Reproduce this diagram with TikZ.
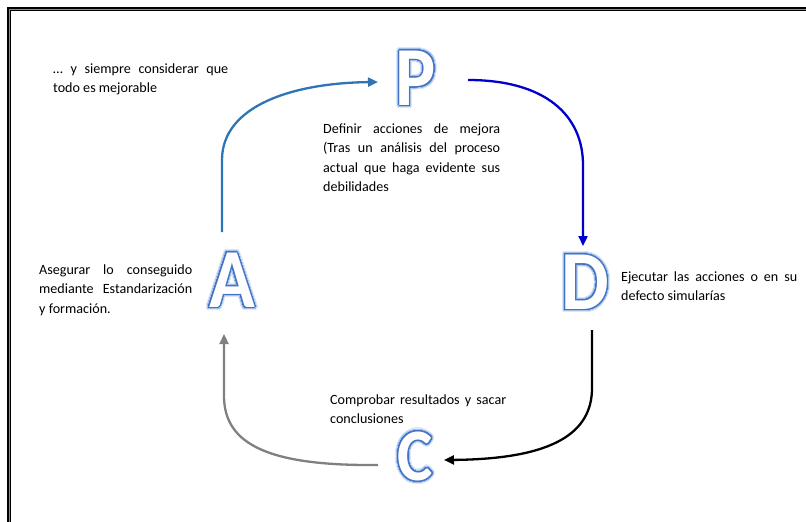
\documentclass[tikz,border=0pt]{standalone}
\usepackage{fontspec}
\setmainfont{Carlito}
\usepackage{graphicx}
\usepackage{contour}
\usetikzlibrary{arrows.meta,calc}

\definecolor{pdcaedge}{HTML}{4472C4}
\definecolor{pdcaglow}{HTML}{A3C0EA}
\definecolor{pdcahalo}{HTML}{DCE7F7}
\definecolor{arrowP}{HTML}{2E75B6}
\definecolor{arrowD}{HTML}{0000CC}
\definecolor{arrowC}{HTML}{000000}
\definecolor{arrowA}{HTML}{808080}

\contournumber{64}
% white letter with a thin blue edge and a soft blue halo
\newcommand\pdcaletter[1]{\scalebox{0.9}[1]{%
  \contourlength{3.4pt}\rlap{\color{pdcahalo}\contour{pdcahalo}{#1}}%
  \contourlength{2.2pt}\rlap{\color{pdcaglow}\contour{pdcaglow}{#1}}%
  \contourlength{1.1pt}{\color{white}\contour{pdcaedge}{#1}}}}

\tikzset{
  bigletter/.style={inner sep=0pt, font=\fontsize{84}{84}\selectfont\bfseries},
  smallletter/.style={inner sep=0pt, font=\fontsize{74}{74}\selectfont\bfseries},
  note/.style={inner sep=0pt, anchor=base west, text width=#1, align=justify,
    font=\fontsize{14.1}{19.6}\selectfont},
  flow/.style={line width=2.3pt, draw=#1, -{Triangle[length=10pt,width=9pt,fill=#1]}},
}

\begin{document}
\begin{tikzpicture}[x=1pt,y=-1pt]
\useasboundingbox (0,0) rectangle (806,522);

% double frame
\draw[line width=2pt] (7.5,7.5) rectangle (830,540);
\draw[line width=0.6pt, black!45] (9.2,9.2) rectangle (830,540);
\draw[line width=0.8pt] (10.4,10.4) rectangle (830,540);

% cycle letters
\node[bigletter] (P) at (416,80) {\pdcaletter{P}};
\node[bigletter] (D) at (585,284) {\pdcaletter{D}};
\node[smallletter] (C) at (415,458) {\pdcaletter{C}};
\node[bigletter] (A) at (232,282) {\pdcaletter{A}};

% connector end points
\coordinate (a1s) at ($(A)+(-10,-50)$);
\coordinate (a1e) at ($(P)+(-38,2)$);
\coordinate (a2s) at ($(P)+(52,0)$);
\coordinate (a2e) at ($(D)+(-2,-38)$);
\coordinate (a3s) at ($(D)+(7,46)$);
\coordinate (a3e) at ($(C)+(29,2)$);
\coordinate (a4s) at ($(C)+(-37,7)$);
\coordinate (a4e) at ($(A)+(-8,52)$);

% cycle arrows
\draw[flow=arrowP] (a1s) -- (222,160) .. controls (222,106) and (292,83) .. (a1e);
\draw[flow=arrowD] (a2s) .. controls (545,80) and (583,115) .. (583,165) -- (a2e);
\draw[flow=arrowC] (a3s) -- (592,388) .. controls (592,432) and (555,459) .. (a3e);
\draw[flow=arrowA] (a4s) .. controls (272,466) and (224,446) .. (224,396) -- (a4e);

% descriptions (lines held together with ties, broken only where marked)
\node[note=175pt] (tP) at (53,73)
  {\dots~y~siempre~considerar~que\linebreak todo~es~mejorable};
\node[note=177pt] (tP2) at (323,133)
  {Definir~acciones~de~mejora\linebreak (Tras~un~análisis~del~proceso\linebreak actual~que~haga~evidente~sus\linebreak debilidades};
\node[note=176pt] (tD) at (621,281)
  {Ejecutar~las~acciones~o~en~su\linebreak defecto~simularías};
\node[note=176pt] (tC) at (330,404)
  {Comprobar~resultados~y~sacar\linebreak conclusiones};
\node[note=153pt] (tA) at (39,274)
  {Asegurar~lo~conseguido\linebreak mediante~Estandarización\linebreak y~formación.};
\end{tikzpicture}
\end{document}
